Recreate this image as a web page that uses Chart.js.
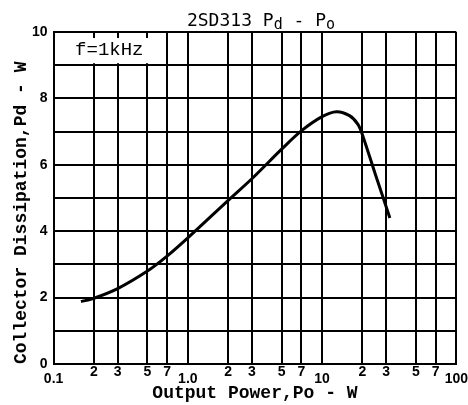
<!DOCTYPE html>
<html>
<head>
<meta charset="utf-8">
<script src="https://cdn.jsdelivr.net/npm/chart.js@4"></script>
<style>
  html, body { margin: 0; padding: 0; background: #fff; }
</style>
</head>
<body>
<canvas id="pdPoChart" width="468" height="405"></canvas>
<script>
// Pd vs Po, 2SD313, f = 1kHz
const outputPower = [0.16, 0.2, 0.3, 0.5, 0.7, 1.0, 2.0, 3.0, 5.0, 7.0, 10, 12.8, 16, 18.5, 20, 25, 32];
const dissipation = [1.88, 1.98, 2.27, 2.8, 3.25, 3.8, 4.93, 5.58, 6.47, 7.02, 7.45, 7.6, 7.48, 7.22, 6.9, 5.7, 4.4];

const xTickValues = [0.1, 0.2, 0.3, 0.5, 0.7, 1, 2, 3, 5, 7, 10, 20, 30, 50, 70, 100];
const xTickLabels = ["0.1", "2", "3", "5", "7", "1.0", "2", "3", "5", "7", "10", "2", "3", "5", "7", "100"];
const xMajorTicks = [0.1, 1, 10, 100];
const yTickLabels = ["0", "", "2", "", "4", "", "6", "", "8", "", "10"];

const noteText = "f=1kHz";

const tickFont = { family: "'Liberation Sans', Arial, sans-serif", size: 14, weight: "bold" };
const titleFont = { family: "'Liberation Mono', monospace", size: 18, weight: "bold", lineHeight: 1 };

// white label box in top-left cell
const noteBox = {
  id: "noteBox",
  beforeDatasetsDraw(chart) {
    const { ctx, scales: { x, y } } = chart;
    const left = x.getPixelForValue(0.1) + 1.5;
    const right = x.getPixelForValue(0.55);
    const top = y.getPixelForValue(10) + 6;
    const bottom = y.getPixelForValue(9) - 2;
    ctx.save();
    ctx.fillStyle = "#fff";
    ctx.fillRect(left, top, right - left, bottom - top);
    ctx.fillStyle = "#000";
    ctx.font = "19px 'Liberation Mono', monospace";
    ctx.textBaseline = "middle";
    ctx.fillText(noteText, left + 20, (y.getPixelForValue(10) + y.getPixelForValue(9)) / 2 + 1);
    ctx.restore();
  }
};

// title with subscripts
const subTitle = {
  id: "subTitle",
  afterDraw(chart) {
    const ctx = chart.ctx;
    const parts = [["2SD313 P", false], ["d", true], [" - P", false], ["o", true]];
    const big = "18px 'DejaVu Sans Mono', monospace";
    const small = "15px 'DejaVu Sans Mono', monospace";
    ctx.save();
    ctx.fillStyle = "#000";
    ctx.textBaseline = "alphabetic";
    let w = 0;
    parts.forEach(([t, sub]) => { ctx.font = sub ? small : big; w += ctx.measureText(t).width; });
    let xPos = chart.width / 2 + 27 - w / 2;
    parts.forEach(([t, sub]) => {
      ctx.font = sub ? small : big;
      ctx.fillText(t, xPos, sub ? 29 : 26);
      xPos += ctx.measureText(t).width;
    });
    ctx.restore();
  }
};

new Chart(document.getElementById("pdPoChart"), {
  type: "line",
  data: {
    datasets: [{
      data: outputPower.map((p, i) => ({ x: p, y: dissipation[i] })),
      borderColor: "#000",
      borderWidth: 3,
      pointRadius: 0,
      fill: false,
      tension: 0.3,
    }],
  },
  options: {
    responsive: false,
    animation: false,
    layout: { padding: { top: 32, right: 0, bottom: 3, left: 0 } },
    plugins: {
      legend: { display: false },
      title: { display: false },
      tooltip: { enabled: false },
    },
    scales: {
      x: {
        type: "logarithmic",
        min: 0.1,
        max: 100,
        afterBuildTicks: scale => {
          scale.ticks = xTickValues.map(v => ({ value: v }));
        },
        ticks: {
          autoSkip: false,
          maxRotation: 0,
          padding: 0,
          color: "#000",
          font: ctx => (ctx.tick && xMajorTicks.includes(ctx.tick.value))
            ? { ...tickFont, lineHeight: "10px" }
            : { ...tickFont, lineHeight: 1.15 },
          callback: (v, i) => xMajorTicks.includes(v) ? ["", xTickLabels[i]] : xTickLabels[i],
        },
        grid: { color: "#000", lineWidth: 2, drawTicks: false },
        border: { color: "#000", width: 2 },
        title: {
          display: true,
          text: "Output Power,Po - W",
          color: "#000",
          font: titleFont,
          padding: { top: 0, bottom: 0 },
        },
      },
      y: {
        min: 0,
        max: 10,
        afterBuildTicks: scale => {
          scale.ticks = yTickLabels.map((_, i) => ({ value: i }));
        },
        ticks: {
          padding: 6,
          color: "#000",
          font: tickFont,
          callback: (v, i) => yTickLabels[i],
        },
        grid: { color: "#000", lineWidth: 2, drawTicks: false },
        border: { color: "#000", width: 2 },
        title: {
          display: true,
          text: "Collector Dissipation,Pd - W",
          align: "start",
          color: "#000",
          font: titleFont,
          padding: { top: 12, bottom: -4 },
        },
      },
    },
  },
  plugins: [noteBox, subTitle],
});
</script>
</body>
</html>
